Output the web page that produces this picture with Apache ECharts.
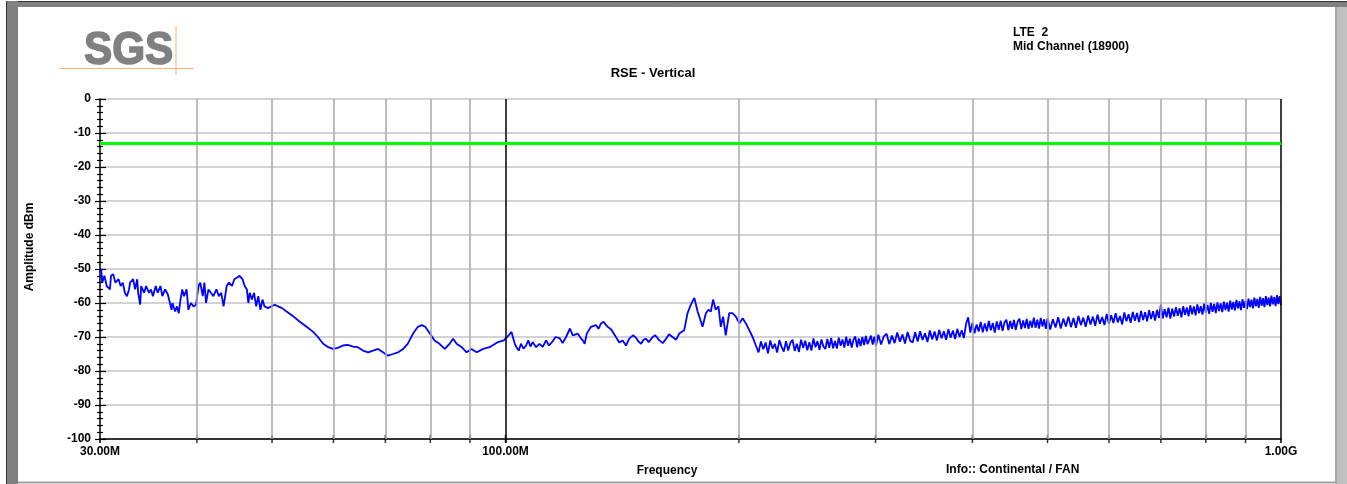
<!DOCTYPE html>
<html><head><meta charset="utf-8">
<script src="https://cdn.jsdelivr.net/npm/echarts@6/dist/echarts.min.js"></script>
<style>html,body{margin:0;padding:0;background:#fff}#c{width:1347px;height:484px}</style>
</head><body><div id="c"></div>
<script>
const FONT = '"Liberation Sans", Arial, sans-serif';

// ---- data ----
const yTicks = [0,-10,-20,-30,-40,-50,-60,-70,-80,-90,-100];
const xTickLabels = { '30': '30.00M', '100': '100.00M', '1000': '1.00G' };
const gridFreqs = [40,50,60,70,80,90,200,300,400,500,600,700,800,900];
const darkFreqs = [100,1000];
const limitDb = -13;

const traceLow = [
[30.0,-51],[30.1,-50],[30.2,-54],[30.4,-52],[30.6,-55],[30.9,-56],[31.0,-52],[31.2,-51.5],[31.4,-54],[31.7,-53],
[31.9,-55],[32.1,-54],[32.3,-57],[32.5,-58],[32.7,-56],[32.8,-54],[33.1,-53],[33.3,-56],[33.5,-53],[33.6,-57],
[33.8,-60.5],[33.9,-55],[34.2,-57],[34.4,-55],[34.7,-57],[34.9,-56],[35.1,-58],[35.4,-55],[35.6,-57],[35.9,-55],
[36.1,-58],[36.4,-56],[36.7,-57.5],[36.9,-58],[37.1,-62],[37.2,-60],[37.5,-62.5],[37.7,-61],[37.9,-63],[38.1,-59],
[38.3,-56],[38.5,-58],[38.8,-56],[39.0,-62],[39.3,-60],[39.6,-61],[39.9,-60.5],[40.2,-55],[40.4,-54],[40.7,-58],
[40.9,-54],[41.1,-60],[41.4,-56],[41.7,-57],[42.0,-58],[42.4,-56],[42.7,-58],[43.0,-57],[43.3,-61],[43.7,-55],
[44.0,-54],[44.4,-55],[44.7,-53],[45.1,-52.5],[45.4,-52],[45.8,-53],[46.1,-55],[46.4,-56],[46.6,-60],[46.8,-57],
[47.1,-59],[47.4,-57],[47.7,-61],[48.0,-58],[48.3,-62],[48.6,-59],[48.9,-61],[49.4,-61.5],[49.9,-61],[50.4,-60.5],
[50.9,-61],[51.5,-61.5]
];

const traceMid = [
[52.2,-62.5],[53.3,-64],[54.3,-65.5],[55.4,-67],[56.5,-68.5],[57.3,-70],[58.2,-72],[59.1,-73],[59.9,-73.5],[60.8,-73.2],
[61.7,-72.5],[62.6,-72.3],[63.6,-72.8],[64.5,-73],[65.5,-74],[66.5,-74.5],[67.5,-74],[68.5,-73.5],[69.5,-74.5],[70.5,-75.5],
[71.6,-75],[72.7,-74.5],[73.8,-73.5],[74.8,-72],[76.0,-69],[77.1,-67],[78.0,-66.5],[78.8,-67],[79.9,-69],[81.0,-71],
[82.2,-72],[83.5,-73.5],[84.7,-72],[85.6,-70.5],[86.5,-72],[87.8,-73],[89.1,-74.5],[90.4,-73.5],[91.8,-74.5],[93.6,-73.5],
[95.4,-73],[97.8,-71.5],[99.5,-71],[100.5,-70],[101.8,-68.5],[102.8,-72],[103.3,-73],[104,-74],[104.7,-72],[105.5,-73.4],
[106.3,-72.5],[107,-71],[107.7,-72.8],[108.4,-71.5],[109.5,-73],[110.6,-72],[111.7,-72.9],[112.8,-71],[113.8,-72.5],[115,-71.3],
[116,-70],[117.4,-70.3],[118.5,-71.8],[119.7,-70],[121.1,-67.5],[122.1,-69.5],[123.9,-69],[125.1,-70.4],[125.8,-71],[126.5,-72],
[127.3,-69],[128.9,-67],[130.8,-66.5],[131.8,-67.6],[132.8,-66],[133.8,-65.5],[134.8,-66.5],[135.8,-67.2],[136.8,-67.7],[138.8,-70],
[140.2,-71.6],[141.6,-71],[143,-72.5],[144.4,-70.5],[146,-69.5],[147.3,-70.2],[148.5,-71.4],[149.6,-72],[150.7,-70.8],[151.8,-70.5],
[153,-71.5],[154.8,-70],[156,-69.5],[157.9,-71],[159.5,-71.8],[161.1,-70.5],[162.5,-69.2],[164.2,-70],[166,-70.8],[167.5,-69],
[170,-68],[171.7,-63],[173.4,-60.5],[175.2,-58.5],[176.9,-62.5],[177.8,-64],[179.5,-67],[181.3,-63],[182.7,-62],[184,-62.5],
[185.2,-59],[186.7,-62],[188.2,-61],[189.5,-67],[190.8,-64],[192.3,-69.5],[194.3,-63],[196.2,-63],[198.2,-64],[200.2,-66],
[202.2,-64.5],[204.2,-66],[206.2,-68],[208.3,-70],[210.3,-72.5]
];

const traceBand = [
[212,-74.5],[213.5,-71.3],[215,-73.6],[216.5,-71.6],[218,-74.8],[219.5,-71.0],[221,-73.4],[222.5,-72.0],[224,-74.6],[225.5,-70.9],
[227,-72.9],[228.5,-74.3],[230,-71.2],[231.5,-74.0],[233,-71.7],[234.5,-70.8],[236,-74.1],[237.5,-72.0],[239,-74.4],[240.5,-70.8],
[242,-73.2],[243.5,-71.1],[245,-73.9],[246.5,-71.5],[248,-74.0],[249.5,-70.4],[251,-73.0],[252.5,-71.2],[254,-73.8],[255.5,-70.7],
[257,-72.8],[258.5,-73.5],[260,-70.6],[261.5,-73.2],[263,-70.3],[264.5,-73.3],[266,-71.2],[267.5,-73.4],[269,-70.2],[270.5,-72.6],
[272,-70.7],[273.5,-73.1],[275,-69.9],[276.5,-72.6],[278,-70.5],[279.5,-73.1],[281,-70.8],[282.5,-69.8],[284,-73.0],[285.5,-70.4],
[287,-72.7],[288.5,-70.0],[290,-72.4],[291.5,-69.7],[293,-72.1],[294.5,-72.6],[296,-69.6],[297.5,-72.2],[299,-69.9],[300.5,-72.5],
[302.5,-69.3],[305,-72.2],[307.5,-69.8],[310,-69.0],[312.5,-72.1],[315,-69.6],[317.5,-71.8],[320,-68.7],[322.5,-71.4],[325,-69.3],
[327.5,-71.9],[330,-68.5],[332.5,-71.1],[335,-71.6],[337.5,-68.6],[340,-71.3],[342.5,-68.3],[345,-70.9],[347.5,-68.9],[350,-71.5],
[352.5,-68.1],[355,-70.7],[357.5,-68.4],[360,-71.0],[362.5,-67.9],[365,-70.4],[367.5,-68.3],[370,-70.8],[372.5,-67.7],[375,-70.2],
[377.5,-68.1],[380,-70.6],[382.5,-67.6],[385,-70.0],[387.5,-68.0],[390,-70.3],[392.5,-66.2],[395,-64.2],[397.5,-68.7],[400,-65.8],
[402.5,-68.9],[405,-66.3],[407.5,-68.4],[410,-65.6],[412.5,-68.6],[415,-66.0],[417.5,-68.3],[420,-65.3],[422.5,-68.0],[425,-65.9],
[427.5,-68.7],[430,-65.4],[432.5,-67.9],[435,-65.2],[437.5,-68.2],[440,-65.7],[442.5,-64.9],[445,-68.0],[447.5,-65.3],[450,-67.6],
[452.5,-65.0],[455,-67.9],[457.5,-65.5],[460,-64.6],[462.5,-67.7],[465,-65.1],[467.5,-67.4],[470,-64.7],[472.5,-67.6],[475,-65.2],
[477.5,-67.2],[480,-64.3],[482.5,-67.3],[485,-64.9],[487.5,-67.5],[490,-64.4],[492.5,-66.9],[495,-64.8],[497.5,-67.6],[500,-64.5],
[504,-67.8],[508,-64.8],[512,-67.2],[516,-64.2],[520,-67.5],[524,-64.6],[528,-66.9],[532,-64.0],[536,-67.1],[540,-64.4],
[544,-67.3],[548,-63.8],[552,-66.5],[556,-64.3],[560,-67.0],[564,-63.7],[568,-66.3],[572,-64.0],[576,-66.7],[580,-63.4],
[584,-66.1],[588,-64.1],[592,-66.5],[596,-63.2],[600,-66.2],[604,-63.6],[608,-65.9],[612,-63.0],[616,-65.7],[620,-63.8],
[624,-66.3],[628,-62.8],[632,-65.4],[636,-63.3],[640,-65.8],[644,-62.6],[648,-65.2],[652,-62.9],[656,-65.6],[660,-62.3],
[664,-65.0],[668,-62.7],[672,-65.4],[676,-62.1],[680,-64.7],[684,-62.4],[688,-65.2],[692,-62.0],[696,-64.4],[700,-60.4],
[704,-64.5],[708,-61.8],[712,-64.2],[716,-61.4],[720,-64.6],[724,-61.7],[728,-64.0],[732,-61.2],[736,-63.8],[740,-61.5],
[744,-64.2],[748,-60.9],[752,-63.5],[756,-61.3],[760,-63.9],[764,-60.7],[768,-63.3],[772,-61.0],[776,-63.6],[780,-60.4],
[784,-63.0],[788,-60.9],[792,-63.4],[796,-60.2],[800,-62.9],[804,-60.6],[808,-63.2],[812,-60.0],[816,-62.6],[820,-60.3],
[824,-63.0],[828,-59.8],[832,-62.4],[836,-60.1],[840,-62.7],[844,-59.6],[848,-62.1],[852,-59.9],[856,-62.5],[860,-59.3],
[864,-61.9],[868,-59.7],[872,-62.2],[876,-59.1],[880,-61.6],[884,-59.5],[888,-62.1],[892,-58.9],[896,-61.4],[900,-59.3],
[904,-61.8],[908,-58.7],[912,-61.2],[916,-59.0],[920,-61.6],[924,-58.4],[928,-61.0],[932,-58.8],[936,-61.4],[940,-58.2],
[944,-60.8],[948,-58.6],[952,-61.2],[956,-58.0],[960,-60.6],[964,-58.4],[968,-61.0],[972,-57.8],[976,-60.4],[980,-58.3],
[984,-60.9],[988,-57.7],[992,-60.3],[996,-58.0],[1000,-60.6]
];

const trace = traceLow.concat(traceMid, traceBand);

// ---- chart ----
const chart = echarts.init(document.getElementById('c'), null, { renderer: 'canvas' });
const txt = { fontFamily: FONT, fontWeight: 'bold', fontSize: 12, color: '#000' };

const yBase = {
  type: 'value', min: yTicks[yTicks.length - 1], max: yTicks[0], interval: 10, position: 'left'
};

chart.setOption({
  animation: false,
  backgroundColor: '#fff',
  grid: { left: 100, right: 66, top: 99, bottom: 45 },
  xAxis: {
    type: 'log', logBase: 10, min: 30, max: 1000,
    axisLine: { onZero: false, lineStyle: { color: '#000', width: 1.5 } },
    axisTick: { show: true, length: 4, lineStyle: { color: '#000', width: 1.5 } },
    splitLine: { show: false },
    axisLabel: Object.assign({}, txt, {
      margin: 7,
      showMinLabel: true, showMaxLabel: true,
      formatter: function (v) {
        const r = Math.round(v);
        return xTickLabels[r] || '';
      }
    })
  },
  yAxis: [
    Object.assign({}, yBase, {
      axisLine: { show: true, onZero: false, lineStyle: { color: '#000', width: 1.5 } },
      axisTick: { show: true, length: 5, lineStyle: { color: '#000', width: 1.2 } },
      minorTick: { show: true, splitNumber: 5, length: 3, lineStyle: { color: '#000', width: 1.2 } },
      splitLine: { show: true, lineStyle: { color: '#c4c4c4', width: 1.5 } },
      axisLabel: Object.assign({}, txt, { margin: 9 })
    }),
    Object.assign({}, yBase, {
      axisLine: { show: false, onZero: false },
      axisTick: { show: true, inside: true, length: 6, lineStyle: { color: '#000', width: 1.2 } },
      minorTick: { show: true, splitNumber: 5, length: 3, lineStyle: { color: '#000', width: 1.2 } },
      splitLine: { show: false },
      axisLabel: { show: false }
    })
  ],
  series: [
    {
      name: 'grid', type: 'line', z: 1, data: [[30, -100]], showSymbol: false,
      lineStyle: { opacity: 0 }, silent: true,
      markLine: {
        silent: true, symbol: 'none', label: { show: false }, animation: false,
        data: gridFreqs.map(f => ({ xAxis: f, lineStyle: { color: '#a8a8a8', width: 1.5, type: 'solid' } }))
          .concat(darkFreqs.map(f => ({ xAxis: f, lineStyle: { color: '#000', width: 1.5, type: 'solid' } })))
      }
    },
    {
      name: 'ticks', type: 'scatter', z: 3, clip: false, silent: true,
      symbol: 'rect', symbolSize: [1.5, 8],
      itemStyle: { color: '#000' },
      data: gridFreqs.concat([100]).map(f => [f, -100])
    },
    {
      name: 'RSE', type: 'line', z: 2, data: trace, showSymbol: false, sampling: 'none',
      lineStyle: { color: '#0000ff', width: 1.8 },
      markLine: {
        silent: true, symbol: 'none', label: { show: false }, animation: false,
        data: [{ yAxis: limitDb, lineStyle: { color: '#00ff00', width: 3, type: 'solid' } }]
      }
    }
  ],
  graphic: [
    // frame
    { type: 'rect', shape: { x: 6, y: 1, width: 1341, height: 6 }, style: { fill: '#808080' }, silent: true },
    { type: 'line', shape: { x1: 6, y1: 1.5, x2: 1347, y2: 1.5 }, style: { stroke: '#333', lineWidth: 1 }, silent: true },
    { type: 'rect', shape: { x: 6, y: 1, width: 12, height: 483 }, style: { fill: '#808080' }, silent: true },
    { type: 'line', shape: { x1: 6.5, y1: 1, x2: 6.5, y2: 484 }, style: { stroke: '#333', lineWidth: 1 }, silent: true },
    { type: 'rect', shape: { x: 1335, y: 7, width: 12, height: 477 }, style: { fill: '#c0c0c0' }, silent: true },
    { type: 'line', shape: { x1: 1336, y1: 7, x2: 1336, y2: 484 }, style: { stroke: '#a0a0a0', lineWidth: 1.5 }, silent: true },
    { type: 'line', shape: { x1: 18, y1: 482.5, x2: 1335, y2: 482.5 }, style: { stroke: '#a0a0a0', lineWidth: 2 }, silent: true },
    // logo
    { type: 'text', x: 84, y: 51, scaleX: 0.9, style: { text: 'SGS', fontFamily: FONT, fontWeight: 'bold', fontSize: 47, fill: '#808080', stroke: '#808080', lineWidth: 1.6, textAlign: 'left', textVerticalAlign: 'middle' }, silent: true },
    { type: 'line', shape: { x1: 59, y1: 68.5, x2: 194, y2: 68.5 }, style: { stroke: '#f4b183', lineWidth: 1 }, silent: true },
    { type: 'line', shape: { x1: 176, y1: 26, x2: 176, y2: 75 }, style: { stroke: '#f4b183', lineWidth: 1 }, silent: true },
    // texts
    { type: 'text', x: 653, y: 73, style: { text: 'RSE - Vertical', fontFamily: FONT, fontWeight: 'bold', fontSize: 13, fill: '#000', textAlign: 'center', textVerticalAlign: 'middle' } },
    { type: 'text', x: 1013, y: 33, style: { text: 'LTE  2', fontFamily: FONT, fontWeight: 'bold', fontSize: 12, fill: '#000', textAlign: 'left', textVerticalAlign: 'middle' } },
    { type: 'text', x: 1013, y: 47, style: { text: 'Mid Channel (18900)', fontFamily: FONT, fontWeight: 'bold', fontSize: 12, fill: '#000', textAlign: 'left', textVerticalAlign: 'middle' } },
    { type: 'text', x: 30, y: 247, rotation: Math.PI / 2, style: { text: 'Amplitude dBm', fontFamily: FONT, fontWeight: 'bold', fontSize: 12, fill: '#000', textAlign: 'center', textVerticalAlign: 'middle' } },
    { type: 'text', x: 667, y: 471, style: { text: 'Frequency', fontFamily: FONT, fontWeight: 'bold', fontSize: 12, fill: '#000', textAlign: 'center', textVerticalAlign: 'middle' } },
    { type: 'text', x: 946, y: 470, style: { text: 'Info:: Continental / FAN', fontFamily: FONT, fontWeight: 'bold', fontSize: 12, fill: '#000', textAlign: 'left', textVerticalAlign: 'middle' } }
  ]
});
</script></body></html>
